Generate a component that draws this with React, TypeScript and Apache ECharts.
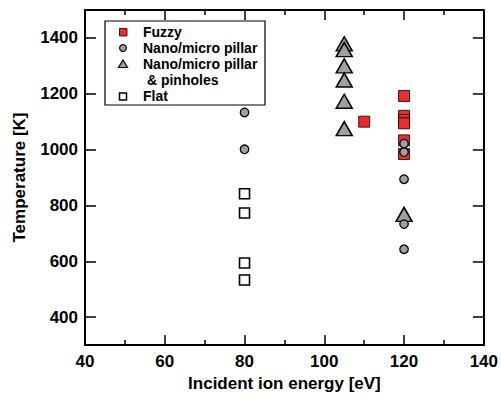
import React, { useEffect, useRef } from "react";
import * as echarts from "echarts";

const fuzzy: number[][] = [
  [110, 1100], [120, 1192], [120, 1121], [120, 1106], [120, 1094], [120, 1033], [120, 984],
];
const pillarTri: number[][] = [
  [105, 1379], [105, 1358], [105, 1300], [105, 1249], [105, 1173], [105, 1075], [120, 768],
];
const pillarCircle: number[][] = [
  [80, 1133], [80, 1001], [120, 1021], [120, 991], [120, 894], [120, 733], [120, 643],
];
const flat: number[][] = [
  [80, 842], [80, 773], [80, 594], [80, 533],
];
const yTicks = [400, 600, 800, 1000, 1200, 1400];
const legendLabels = ["Fuzzy", "Nano/micro pillar", "Nano/micro pillar", " & pinholes", "Flat"];

const FONT = "Liberation Sans";
const RED = "#ee2a2a";
const GRAY = "#a0a0a0";

export default function App() {
  const ref = useRef<HTMLDivElement>(null);
  useEffect(() => {
    if (!ref.current) return;
    const chart = echarts.init(ref.current, null, { renderer: "svg" });
    const axisLine = { show: true, onZero: false, lineStyle: { color: "#000", width: 2 } };
    const tickStyle = { color: "#000", width: 1.5 };
    const xBase = {
      type: "value",
      min: 40,
      max: 140,
      interval: 20,
      splitLine: { show: false },
      axisLine,
      axisTick: { show: true, inside: true, length: 10, lineStyle: tickStyle },
      minorTick: { show: true, splitNumber: 2, length: 5, lineStyle: tickStyle },
    };
    const yBase = {
      type: "value",
      min: 300,
      max: 1500,
      splitLine: { show: false },
      axisLine,
      axisTick: { show: true, inside: true, length: 11, lineStyle: tickStyle, customValues: yTicks },
    };
    const legendY = [32, 48, 64, 80, 96];
    const graphics: any[] = [
      {
        type: "rect",
        shape: { x: 105, y: 21, width: 160, height: 84 },
        style: { fill: "#fff", stroke: "#000", lineWidth: 1.2 },
        z: 100,
      },
      {
        type: "rect",
        shape: { x: 119.5, y: 28.5, width: 7.5, height: 7.5 },
        style: { fill: RED, stroke: "#000", lineWidth: 0.8 },
        z: 101,
      },
      {
        type: "circle",
        shape: { cx: 123, cy: 48, r: 3.4 },
        style: { fill: GRAY, stroke: "#000", lineWidth: 1.2 },
        z: 101,
      },
      {
        type: "polygon",
        shape: { points: [[123, 60], [127.5, 67.5], [118.5, 67.5]] },
        style: { fill: GRAY, stroke: "#000", lineWidth: 1.2 },
        z: 101,
      },
      {
        type: "rect",
        shape: { x: 119.5, y: 93, width: 7, height: 7 },
        style: { fill: "#fff", stroke: "#000", lineWidth: 1.5 },
        z: 101,
      },
    ];
    legendLabels.forEach((t, i) => {
      graphics.push({
        type: "text",
        x: 143,
        y: legendY[i],
        style: {
          text: t,
          font: `bold 14px "${FONT}"`,
          fill: "#000",
          verticalAlign: "middle",
          align: "left",
        },
        z: 101,
      });
    });

    chart.setOption({
      animation: false,
      backgroundColor: "#fff",
      textStyle: { fontFamily: FONT, fontWeight: "bold", fontSize: 17, color: "#000" },
      grid: { left: 85, right: 13, top: 10, bottom: 58, containLabel: false },
      xAxis: [
        {
          ...xBase,
          position: "bottom",
          name: "Incident ion energy [eV]",
          nameLocation: "middle",
          nameGap: 30,
          nameTextStyle: { fontFamily: FONT, fontWeight: "bold", fontSize: 17, color: "#000" },
          axisLabel: {
            show: true,
            margin: 8,
            fontFamily: FONT,
            fontWeight: "bold",
            fontSize: 17,
            color: "#000",
            formatter: (v: number) => String(v),
          },
        },
        { ...xBase, position: "top", axisLabel: { show: false } },
      ],
      yAxis: [
        {
          ...yBase,
          position: "left",
          name: "Temperature [K]",
          nameLocation: "middle",
          nameGap: 57,
          nameTextStyle: { fontFamily: FONT, fontWeight: "bold", fontSize: 17, color: "#000" },
          axisLabel: {
            show: true,
            margin: 7,
            customValues: yTicks,
            fontFamily: FONT,
            fontWeight: "bold",
            fontSize: 17,
            color: "#000",
            formatter: (v: number) => String(v),
          },
        },
        { ...yBase, position: "right", axisLabel: { show: false } },
      ],
      graphic: graphics,
      series: [
        {
          name: "Fuzzy",
          type: "scatter",
          data: fuzzy,
          symbol: "rect",
          symbolSize: 11,
          itemStyle: { color: RED, borderColor: "#000", borderWidth: 0.8, opacity: 1 },
          z: 2,
        },
        {
          name: "Nano/micro pillar & pinholes",
          type: "scatter",
          data: pillarTri,
          symbol: "triangle",
          symbolSize: [16, 14],
          itemStyle: { color: GRAY, borderColor: "#000", borderWidth: 1.5, opacity: 1 },
          z: 3,
        },
        {
          name: "Nano/micro pillar",
          type: "scatter",
          data: pillarCircle,
          symbol: "circle",
          symbolSize: 8.5,
          itemStyle: { color: GRAY, borderColor: "#000", borderWidth: 1.3, opacity: 1 },
          z: 4,
        },
        {
          name: "Flat",
          type: "scatter",
          data: flat,
          symbol: "rect",
          symbolSize: 10,
          itemStyle: { color: "#fff", borderColor: "#000", borderWidth: 1.6, opacity: 1 },
          z: 5,
        },
      ],
    });
    return () => chart.dispose();
  }, []);
  return <div ref={ref} style={{ width: 501, height: 403, position: "fixed", left: 0, top: 0 }} />;
}
